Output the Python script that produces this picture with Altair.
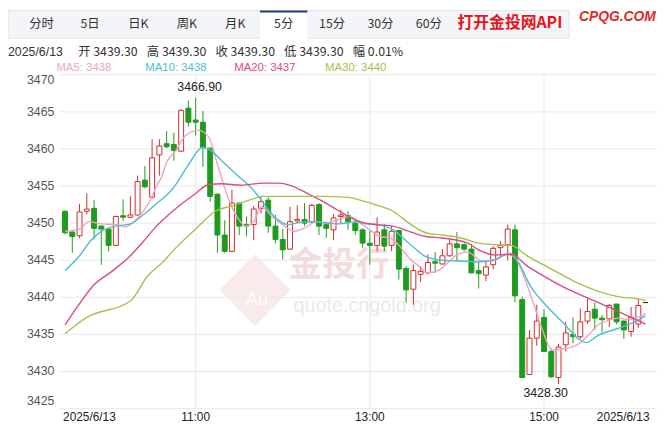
import altair as alt
import pandas as pd

# ---------------- data ----------------
opens = [3451.6, 3448.8, 3448.3, 3451.6, 3452.0, 3449.6, 3449.2, 3447.0, 3451.0, 3450.8,
         3451.1, 3455.8, 3453.5, 3459.2, 3460.7, 3460.6, 3459.7, 3465.5, 3463.9, 3463.6,
         3460.1, 3453.9, 3448.4, 3446.2, 3452.7, 3449.8, 3449.8, 3452.0, 3453.1, 3449.6,
         3447.8, 3446.5, 3450.3, 3450.5, 3450.2, 3452.5, 3449.8, 3449.1, 3450.9, 3451.0,
         3450.0, 3449.1, 3447.3, 3447.0, 3449.1, 3447.0, 3449.0, 3443.9, 3441.1, 3443.1,
         3443.3, 3444.8, 3444.5, 3445.6, 3447.2, 3447.1, 3446.5, 3443.6, 3443.0, 3444.4,
         3446.7, 3447.1, 3449.1, 3439.7, 3429.6, 3434.5, 3437.3, 3432.7, 3429.2, 3433.6,
         3435.0, 3434.7, 3436.8, 3438.4, 3437.2, 3437.1, 3439.1, 3436.8, 3435.4, 3436.4,
         3439.3]
highs = [3451.7, 3448.9, 3452.6, 3454.0, 3453.1, 3449.7, 3449.3, 3451.0, 3453.2, 3453.6,
         3456.4, 3457.7, 3461.3, 3461.3, 3462.4, 3462.2, 3465.3, 3466.5, 3466.9, 3465.1,
         3460.2, 3454.0, 3450.4, 3454.5, 3452.8, 3450.9, 3452.3, 3453.6, 3453.6, 3451.1,
         3449.2, 3452.2, 3452.4, 3452.7, 3452.6, 3452.7, 3450.2, 3451.2, 3451.8, 3451.6,
         3450.5, 3449.3, 3449.1, 3450.8, 3449.9, 3449.6, 3449.1, 3444.2, 3444.4, 3444.2,
         3445.8, 3446.1, 3446.5, 3447.8, 3448.8, 3447.3, 3447.2, 3444.8, 3444.8, 3446.9,
         3447.6, 3449.8, 3449.8, 3440.1, 3435.6, 3439.0, 3438.4, 3433.1, 3433.7, 3436.7,
         3437.3, 3438.5, 3439.8, 3439.3, 3437.6, 3439.1, 3439.1, 3436.9, 3438.7, 3439.8,
         3439.3]
lows = [3448.5, 3446.0, 3448.0, 3451.2, 3447.8, 3444.4, 3446.2, 3447.0, 3450.3, 3450.7,
        3451.0, 3454.7, 3453.3, 3456.4, 3460.1, 3458.4, 3459.6, 3463.0, 3461.8, 3457.6,
        3452.9, 3446.0, 3446.0, 3446.1, 3448.4, 3448.2, 3447.7, 3451.3, 3448.7, 3447.3,
        3445.1, 3446.4, 3450.0, 3449.6, 3450.0, 3448.4, 3448.0, 3447.7, 3449.9, 3449.1,
        3448.4, 3446.7, 3444.4, 3446.2, 3446.2, 3446.2, 3442.4, 3439.3, 3439.0, 3442.1,
        3443.1, 3443.3, 3444.4, 3445.5, 3444.9, 3446.2, 3443.2, 3441.2, 3442.2, 3443.8,
        3445.6, 3445.0, 3439.3, 3429.1, 3429.6, 3433.5, 3432.6, 3429.1, 3428.3, 3432.7,
        3433.8, 3434.4, 3436.4, 3435.6, 3435.3, 3436.0, 3436.4, 3434.4, 3434.7, 3435.9,
        3439.3]
closes = [3448.7, 3448.2, 3451.5, 3451.9, 3449.3, 3449.2, 3447.0, 3450.9, 3450.8, 3451.1,
          3455.6, 3454.9, 3458.8, 3460.4, 3460.3, 3459.8, 3465.2, 3463.6, 3463.6, 3460.2,
          3453.6, 3448.4, 3446.2, 3452.7, 3449.6, 3449.6, 3451.9, 3452.9, 3449.6, 3447.8,
          3446.4, 3450.2, 3450.5, 3450.0, 3452.4, 3449.6, 3449.3, 3450.7, 3451.1, 3450.2,
          3449.0, 3447.3, 3447.0, 3448.8, 3446.9, 3448.9, 3443.8, 3441.0, 3443.6, 3443.5,
          3444.7, 3444.6, 3445.6, 3447.2, 3446.7, 3446.5, 3443.3, 3443.2, 3444.1, 3446.6,
          3447.0, 3449.2, 3440.2, 3429.2, 3434.5, 3436.8, 3432.7, 3429.3, 3433.3, 3435.2,
          3434.7, 3436.7, 3438.1, 3437.2, 3437.0, 3438.9, 3436.7, 3435.6, 3437.3, 3438.9,
          3439.3]

ma5_k = [0, 2, 3.3, 5, 7, 8.2, 10.2, 12, 12.6, 13.3, 14, 15.3, 16.6, 18.4, 19.8, 21.1, 22.4,
         23.8, 24.9, 26, 27.1, 28.5, 30.3, 31.6, 32.9, 34.7, 36, 37.4, 39.2, 40.7, 42, 43.4,
         44.8, 46.1, 47.4, 48.8, 50.1, 51.4, 52.8, 54.1, 55.5, 57.4, 58.8, 60.1, 61.3, 62.2,
         63.7, 65.1, 65.9, 67.1, 68.2, 69.5, 70.9, 72.2, 73.5, 74.9, 76.2, 77.6, 78.9, 80]
ma5_v = [3448.9, 3449.2, 3450.2, 3449.9, 3449.8, 3449.5, 3450.9, 3453.6, 3455.0, 3456.2,
         3458.2, 3459.8, 3461.8, 3462.5, 3461.6, 3457.6, 3453.6, 3450.7, 3449.6, 3450.2,
         3452.2, 3450.9, 3449.6, 3448.9, 3449.3, 3450.2, 3450.0, 3450.4, 3450.9, 3450.0,
         3449.1, 3448.2, 3448.0, 3446.9, 3445.3, 3444.2, 3443.3, 3443.6, 3444.7, 3445.8,
         3446.1, 3444.9, 3444.9, 3445.6, 3446.0, 3445.1, 3441.6, 3437.6, 3435.3, 3432.9,
         3433.0, 3433.2, 3433.8, 3435.0, 3436.3, 3436.9, 3437.2, 3437.0, 3437.3, 3437.8]

ma10_k = [0, 2, 3.5, 5, 7, 9, 11, 12.6, 14.9, 17.1, 18.9, 20.1, 21.6, 23.8, 26, 27.1, 28,
          29.4, 30.7, 32.5, 34.3, 36, 37.8, 40.1, 41.4, 43, 45.2, 47.4, 49.7, 51.9, 54.1, 57,
          59.3, 61, 62.2, 64.2, 66.4, 68.6, 70.9, 71.8, 73.5, 76.2, 78.9, 80]
ma10_v = [3443.6, 3445.6, 3447.6, 3448.9, 3449.6, 3449.9, 3451.3, 3452.6, 3454.7, 3458.0,
          3460.2, 3459.8, 3458.4, 3456.4, 3454.4, 3453.0, 3451.8, 3450.4, 3449.8, 3450.1,
          3450.2, 3450.0, 3449.9, 3450.2, 3449.9, 3449.8, 3449.1, 3447.3, 3445.5, 3445.0,
          3444.9, 3444.8, 3445.1, 3445.8, 3445.1, 3441.4, 3438.8, 3436.6, 3434.3, 3433.9,
          3434.9, 3435.8, 3436.9, 3437.5]

ma20_k = [0, 2.1, 3.9, 6.6, 9, 10.6, 12.6, 15.3, 18, 19.8, 21.6, 24.2, 27.3, 29.4, 31, 33.4,
          35.6, 37.8, 40.1, 41.4, 43, 45.2, 47.4, 49.7, 51.9, 55.5, 57, 59.3, 61.5, 63.7, 65.9,
          69.5, 70.9, 73.5, 76.2, 78.9, 80]
ma20_v = [3436.3, 3439.3, 3441.6, 3443.6, 3445.6, 3447.3, 3449.6, 3452.0, 3454.0, 3455.2,
          3455.3, 3455.1, 3455.4, 3455.4, 3455.1, 3454.0, 3452.9, 3451.6, 3450.4, 3450.0,
          3449.8, 3449.6, 3448.9, 3448.2, 3448.0, 3447.3, 3446.4, 3445.7, 3445.8, 3444.2,
          3442.9, 3441.0, 3440.4, 3439.3, 3438.1, 3436.9, 3436.4]

ma30_k = [0, 3, 9, 11.4, 13.3, 15.3, 18, 20.7, 23.3, 26, 27, 31, 35.6, 38.7, 41.4, 43, 45.2,
          47.4, 49.7, 51.9, 54.6, 57, 59.3, 61.5, 63.7, 65.9, 68.2, 70.9, 73.5, 76.2, 78.9, 80]
ma30_v = [3435.1, 3437.3, 3439.5, 3442.9, 3444.6, 3446.7, 3449.2, 3451.6, 3452.4, 3453.3,
          3453.6, 3453.6, 3453.6, 3453.5, 3452.9, 3452.4, 3451.6, 3450.0, 3448.7, 3448.4,
          3448.0, 3447.3, 3447.1, 3447.0, 3445.6, 3444.4, 3443.2, 3441.8, 3440.8, 3440.1,
          3439.8, 3439.6]

ma_names = ["MA5", "MA10", "MA20", "MA30"]
ma_last = ["3438", "3438", "3437", "3440"]
ma_colors = ["#f2a3bd", "#4bbfcf", "#de4a80", "#a6c24a"]

tab_labels = ["分时", "5日", "日K", "周K", "月K", "5分", "15分", "30分", "60分"]
selected_tab = "5分"

info_date = "2025/6/13"
info_fields = [("开", "3439.30"), ("高", "3439.30"), ("收", "3439.30"), ("低", "3439.30"), ("幅", "0.01%")]

x_tick_idx = [0, 18, 42, 66, 80]
x_tick_lbl = ["2025/6/13", "11:00", "13:00", "15:00", "2025/6/13"]
grid_idx = [18, 42, 66]
y_ticks = [3425, 3430, 3435, 3440, 3445, 3450, 3455, 3460, 3465, 3470]

# ---------------- chart ----------------
W, H = 605, 338
xsc = alt.Scale(domain=[-0.1, 80.9], nice=False, zero=False)
ysc = alt.Scale(domain=[3425, 3470], nice=False, zero=False)
AX_FONT = "Liberation Sans"
CJK = "Noto Sans CJK SC"

n = len(opens)
cd = pd.DataFrame({"k": list(range(n)), "open": opens, "high": highs, "low": lows, "close": closes})
cd["dir"] = ["up" if c > o else ("down" if c < o else "flat") for o, c in zip(opens, closes)]
cd["blo"] = [min(o, c) for o, c in zip(opens, closes)]
cd["bhi"] = [max(o, c) for o, c in zip(opens, closes)]

dir_dom = ["up", "down", "flat"]
stroke_sc = alt.Scale(domain=dir_dom, range=["#d12b2b", "#1e9b1e", "#222222"])
fill_sc = alt.Scale(domain=dir_dom, range=["#ffffff", "#1e9b1e", "#222222"])

yt = pd.DataFrame({"v": y_ticks, "t": [str(v) for v in y_ticks]})
hgrid = alt.Chart(yt).mark_rule(color="#e8e8e8", strokeWidth=1).encode(
    y=alt.Y("v:Q", scale=ysc, axis=None), x=alt.value(0), x2=alt.value(W))
ylab_style = dict(align="right", fontSize=12.5, color="#555555", font=AX_FONT)
ylabels_mid = alt.Chart(yt.iloc[1:-1]).mark_text(baseline="middle", **ylab_style).encode(
    y=alt.Y("v:Q", scale=ysc, axis=None), x=alt.value(-5), text="t:N")
ylabels_bot = alt.Chart(yt.iloc[[0]]).mark_text(baseline="bottom", dy=-1, **ylab_style).encode(
    y=alt.Y("v:Q", scale=ysc, axis=None), x=alt.value(-5), text="t:N")
ylabels_top = alt.Chart(yt.iloc[[-1]]).mark_text(baseline="top", dy=-1, **ylab_style).encode(
    y=alt.Y("v:Q", scale=ysc, axis=None), x=alt.value(-5), text="t:N")

vgrid = alt.Chart(pd.DataFrame({"k": grid_idx})).mark_rule(color="#e8e8e8", strokeWidth=1).encode(
    x=alt.X("k:Q", scale=xsc, axis=None))

one = pd.DataFrame({"a": [0]})
wm = [
    alt.Chart(one).mark_point(shape="diamond", filled=True, color="#f6e2e2",
                              size=5200, opacity=0.7).encode(
        x=alt.value(198), y=alt.value(218)),
    alt.Chart(one).mark_text(text="Au", fontSize=18, color="#ffffff",
                             font=AX_FONT, opacity=0.9).encode(
        x=alt.value(200), y=alt.value(228)),
    alt.Chart(one).mark_text(text="金投行", fontSize=34, fontWeight="bold",
                             color="#f3dcdc", font=CJK, align="left").encode(
        x=alt.value(232), y=alt.value(194)),
    alt.Chart(one).mark_text(text="quote.cngold.org", fontSize=20,
                             color="#e9e9e9", font=AX_FONT, align="left").encode(
        x=alt.value(237), y=alt.value(234)),
]

wicks = alt.Chart(cd).mark_rule(strokeWidth=1).encode(
    x=alt.X("k:Q", scale=xsc, axis=None),
    y=alt.Y("low:Q", scale=ysc, axis=None),
    y2="high:Q",
    color=alt.Color("dir:N", scale=stroke_sc, legend=None))

bodies = alt.Chart(cd).mark_bar(size=5, strokeWidth=1).encode(
    x=alt.X("k:Q", scale=xsc, axis=None),
    y=alt.Y("blo:Q", scale=ysc, axis=None),
    y2="bhi:Q",
    fill=alt.Fill("dir:N", scale=fill_sc, legend=None),
    stroke=alt.Stroke("dir:N", scale=stroke_sc, legend=None))

ma_rows = []
for name, ks, vs in zip(ma_names, [ma5_k, ma10_k, ma20_k, ma30_k], [ma5_v, ma10_v, ma20_v, ma30_v]):
    for k, v in zip(ks, vs):
        ma_rows.append({"s": name, "k": k, "v": v})
ma_df = pd.DataFrame(ma_rows)
ma_lines = alt.Chart(ma_df).mark_line(strokeWidth=1.4, interpolate="monotone").encode(
    x=alt.X("k:Q", scale=xsc, axis=None),
    y=alt.Y("v:Q", scale=ysc, axis=None),
    color=alt.Color("s:N", scale=alt.Scale(domain=ma_names, range=ma_colors), legend=None),
    detail="s:N")

# extreme annotations
imax = max(range(n), key=lambda i: highs[i])
imin = min(range(n), key=lambda i: lows[i])
ann_hi = alt.Chart(pd.DataFrame({"k": [imax], "v": [highs[imax]], "t": [f"{highs[imax]:.2f}"]})).mark_text(
    fontSize=12.5, color="#222222", font=AX_FONT, baseline="bottom", dy=-4, dx=4).encode(
    x=alt.X("k:Q", scale=xsc, axis=None), y=alt.Y("v:Q", scale=ysc, axis=None), text="t:N")
ann_lo = alt.Chart(pd.DataFrame({"k": [imin], "v": [lows[imin]], "t": [f"{lows[imin]:.2f}"]})).mark_text(
    fontSize=12.5, color="#222222", font=AX_FONT, baseline="top", dy=3, dx=-13).encode(
    x=alt.X("k:Q", scale=xsc, axis=None), y=alt.Y("v:Q", scale=ysc, axis=None), text="t:N")

# x-axis labels
XLY = H + 8
xl = pd.DataFrame({"k": x_tick_idx, "t": x_tick_lbl})
xlab_left = alt.Chart(xl.iloc[[0]]).mark_text(fontSize=12, color="#222222", font=AX_FONT,
                                              align="left", dx=-2).encode(
    x=alt.X("k:Q", scale=xsc, axis=None), y=alt.value(XLY), text="t:N")
xlab_mid = alt.Chart(xl.iloc[1:4]).mark_text(fontSize=12, color="#222222", font=AX_FONT,
                                             align="center").encode(
    x=alt.X("k:Q", scale=xsc, axis=None), y=alt.value(XLY), text="t:N")
xlab_right = alt.Chart(xl.iloc[[4]]).mark_text(fontSize=12, color="#222222", font=AX_FONT,
                                               align="right", dx=4).encode(
    x=alt.X("k:Q", scale=xsc, axis=None), y=alt.value(XLY), text="t:N")

# header
header = []
header.append(alt.Chart(one).mark_rect(color="#f3f5f9", stroke="#e1e5ec", strokeWidth=1).encode(
    x=alt.value(-52), x2=alt.value(516), y=alt.value(-65), y2=alt.value(-37)))
sel = tab_labels.index(selected_tab)
tab_x0, tab_step = -18, 49
sx = tab_x0 + tab_step * sel
header.append(alt.Chart(one).mark_rect(color="#ffffff").encode(
    x=alt.value(sx - 24), x2=alt.value(sx + 24), y=alt.value(-65), y2=alt.value(-36)))
header.append(alt.Chart(one).mark_rect(color="#1f3b70").encode(
    x=alt.value(sx - 24), x2=alt.value(sx + 24), y=alt.value(-65), y2=alt.value(-63)))
for i, t in enumerate(tab_labels):
    header.append(alt.Chart(one).mark_text(text=t, fontSize=12.5, color="#333333", font=CJK).encode(
        x=alt.value(tab_x0 + tab_step * i), y=alt.value(-51)))
header.append(alt.Chart(one).mark_text(text="打开金投网API", fontSize=16, fontWeight="bold",
                                       color="#e8141b", font=CJK, align="left").encode(
    x=alt.value(403), y=alt.value(-52)))
header.append(alt.Chart(one).mark_text(text="CPQG.COM", fontSize=14, fontWeight="bold",
                                       fontStyle="italic", color="#e02a2a", font=AX_FONT,
                                       align="left").encode(
    x=alt.value(526), y=alt.value(-58)))
header.append(alt.Chart(one).mark_text(text=info_date, fontSize=12.5, color="#333333", font=AX_FONT,
                                       align="left").encode(
    x=alt.value(-52), y=alt.value(-23)))
for i, (a, b) in enumerate(info_fields):
    header.append(alt.Chart(one).mark_text(text=f"{a} {b}", fontSize=12.5, color="#333333", font=CJK,
                                           align="left").encode(
        x=alt.value(19 + 69.5 * i), y=alt.value(-23)))
ma_lbl_x = [-3, 87, 177, 269]
for name, val, col, px in zip(ma_names, ma_last, ma_colors, ma_lbl_x):
    header.append(alt.Chart(one).mark_text(text=f"{name}: {val}", fontSize=11.5, color=col, font=AX_FONT,
                                           align="left").encode(
        x=alt.value(px), y=alt.value(-7)))

chart = alt.layer(hgrid, vgrid, ylabels_mid, ylabels_bot, ylabels_top, *wm, wicks, bodies, ma_lines,
                  ann_hi, ann_lo, xlab_left, xlab_mid, xlab_right, *header).resolve_scale(
    color="independent", stroke="independent").properties(
    width=W, height=H,
    autosize=alt.AutoSizeParams(type="none"),
    padding={"left": 52, "top": 65, "right": 5, "bottom": 14},
).configure_view(stroke=None)

chart.save("out.html", embed_options={"renderer": "svg", "actions": False})
